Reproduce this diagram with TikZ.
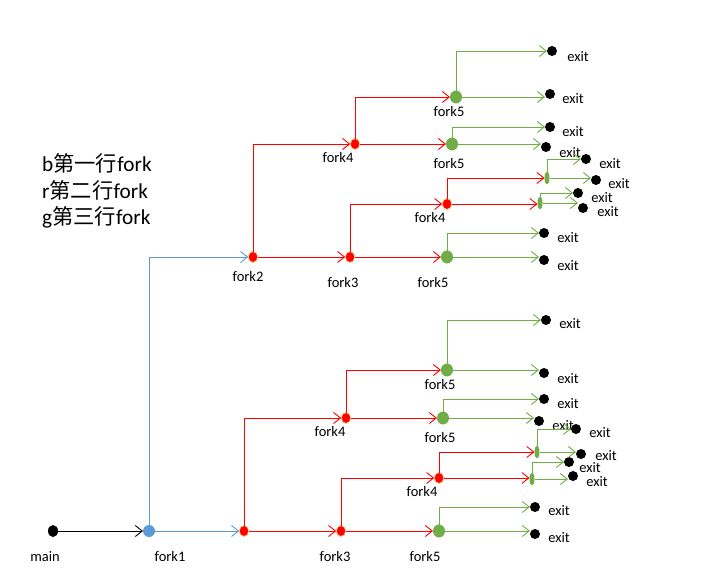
\documentclass[tikz,border=0pt]{standalone}
\usepackage{fontspec}
\setmainfont{Carlito}
\newfontfamily\cjk{Noto Sans CJK SC}
\usetikzlibrary{arrows.meta,shapes.geometric}
\definecolor{cblue}{RGB}{91,155,213}
\definecolor{cred}{RGB}{255,0,0}
\definecolor{cgreen}{RGB}{112,173,71}
\definecolor{cglow}{RGB}{255,200,130}
\begin{document}
\begin{tikzpicture}[x=1pt,y=-1pt,
  dotbase/.style={ellipse,inner sep=0pt,outer sep=0pt},
  blackdot/.style={dotbase,fill=black,minimum width=10pt,minimum height=12pt},
  bluedot/.style={dotbase,fill=cblue,minimum width=12pt,minimum height=12pt},
  reddot/.style={dotbase,fill=cred,draw=cglow,line width=0.8pt,minimum width=9.5pt,minimum height=11pt},
  greendot/.style={dotbase,fill=cgreen,minimum width=12pt,minimum height=13pt},
  greenoval/.style={dotbase,fill=cgreen,minimum width=5pt,minimum height=13pt},
  exitdot/.style={dotbase,fill=black,minimum width=10pt,minimum height=10pt},
  lbl/.style={font=\fontsize{14.5}{16}\selectfont,inner sep=0pt},
  legend/.style={font=\fontsize{21.3}{24}\selectfont,anchor=west,inner sep=0pt},
  conn/.style={line width=0.9pt,-{Straight Barb[length=7pt,width=11pt]}},
  kline/.style={conn,draw=black},
  bline/.style={conn,draw=cblue},
  rline/.style={conn,draw=cred},
  gline/.style={conn,draw=cgreen},
]
\useasboundingbox (0,0) rectangle (703,578);

% legend
\node[legend] (lg1) at (42,163) {b{\cjk 第一行}fork};
\node[legend] (lg2) at (42,190) {r{\cjk 第二行}fork};
\node[legend] (lg3) at (42,217) {g{\cjk 第三行}fork};

% ---------------- bottom chain ----------------
\node[blackdot] (main) at (53,531) {};
\node[lbl] (lmain) at (45,557) {main};
\node[bluedot] (f1) at (149,531) {};
\node[lbl] (lf1) at (170,557) {fork1};
\node[reddot] (f2L) at (244,531) {};
\node[reddot] (f3L) at (341,531) {};
\node[lbl] (lf3L) at (335,557) {fork3};
\node[greendot] (f5La) at (439,531) {};
\node[lbl] (lf5La) at (425,557) {fork5};
\node[exitdot] (eLa1) at (535,507) {};
\node[lbl] (leLa1) at (559,511) {exit};
\node[exitdot] (eLa2) at (535,534) {};
\node[lbl] (leLa2) at (559,538) {exit};

\node[reddot] (f4La) at (439,478) {};
\node[lbl] (lf4La) at (422,492) {fork4};
\node[greenoval] (oA) at (537,452) {};
\node[exitdot] (eA1) at (576,429) {};
\node[lbl] (leA1) at (600,433) {exit};
\node[exitdot] (eA2) at (581,454) {};
\node[lbl] (leA2) at (606,456) {exit};
\node[greenoval] (oB) at (532,479) {};
\node[exitdot] (eB1) at (569,462) {};
\node[lbl] (leB1) at (590,468) {exit};
\node[exitdot] (eB2) at (573,476) {};
\node[lbl] (leB2) at (597,482) {exit};

\node[reddot] (f4Lb) at (346,418) {};
\node[lbl] (lf4Lb) at (330,432) {fork4};
\node[greendot] (f5Lb) at (447,370) {};
\node[lbl] (lf5Lb) at (440,385) {fork5};
\node[exitdot] (eLb1) at (546,320) {};
\node[lbl] (leLb1) at (570,324) {exit};
\node[exitdot] (eLb2) at (544,373) {};
\node[lbl] (leLb2) at (568,379) {exit};
\node[greendot] (f5Lc) at (443,418) {};
\node[lbl] (lf5Lc) at (440,438) {fork5};
\node[exitdot] (eLc1) at (544,399) {};
\node[lbl] (leLc1) at (568,404) {exit};
\node[exitdot] (eLc2) at (539,421) {};
\node[lbl] (leLc2) at (563,426) {exit};

% ---------------- top chain ----------------
\node[reddot] (f2U) at (253,257) {};
\node[lbl] (lf2U) at (248,277) {fork2};
\node[reddot] (f3U) at (350,257) {};
\node[lbl] (lf3U) at (343,283) {fork3};
\node[greendot] (f5Ua) at (447,257) {};
\node[lbl] (lf5Ua) at (433,283) {fork5};
\node[exitdot] (eUa1) at (544,233) {};
\node[lbl] (leUa1) at (568,238) {exit};
\node[exitdot] (eUa2) at (544,260) {};
\node[lbl] (leUa2) at (568,266) {exit};

\node[reddot] (f4Ua) at (447,204) {};
\node[lbl] (lf4Ua) at (430,218) {fork4};
\node[greenoval] (oAU) at (547,178) {};
\node[exitdot] (eAU1) at (586,159) {};
\node[lbl] (leAU1) at (610,164) {exit};
\node[exitdot] (eAU2) at (596,180) {};
\node[lbl] (leAU2) at (619,184) {exit};
\node[greenoval] (oBU) at (540,203) {};
\node[exitdot] (eBU1) at (578,193) {};
\node[lbl] (leBU1) at (602,198) {exit};
\node[exitdot] (eBU2) at (583,208) {};
\node[lbl] (leBU2) at (608,212) {exit};

\node[reddot] (f4Ub) at (355,144) {};
\node[lbl] (lf4Ub) at (338,158) {fork4};
\node[greendot] (f5Ub) at (456,97) {};
\node[lbl] (lf5Ub) at (449,112) {fork5};
\node[exitdot] (eUb1) at (552,51) {};
\node[lbl] (leUb1) at (578,57) {exit};
\node[exitdot] (eUb2) at (550,94) {};
\node[lbl] (leUb2) at (573,99) {exit};
\node[greendot] (f5Uc) at (452,144) {};
\node[lbl] (lf5Uc) at (449,164) {fork5};
\node[exitdot] (eUc1) at (550,127) {};
\node[lbl] (leUc1) at (573,132) {exit};
\node[exitdot] (eUc2) at (546,147) {};
\node[lbl] (leUc2) at (570,153) {exit};

% ---------------- connectors ----------------
\draw[kline] (main) -- (f1);
\draw[bline] (f1) -- (f2L);
\draw[bline] (f1) |- (f2U);

\draw[rline] (f2L) -- (f3L);
\draw[rline] (f2L) |- (f4Lb);
\draw[rline] (f3L) -- (f5La);
\draw[rline] (f3L) |- (f4La);
\draw[gline] (f5La) -- (f5La -| eLa2.west);
\draw[gline] (f5La) |- (eLa1);
\draw[rline] (f4La) -- (f4La -| oB.west);
\draw[rline] (f4La) |- (oA);
\draw[gline] (oA) -- (oA -| eA2.west);
\draw[gline] (oA) |- (eA1);
\draw[gline] (oB) -- (oB -| eB2.west);
\draw[gline] (oB) |- (eB1);
\draw[rline] (f4Lb) -- (f5Lc);
\draw[rline] (f4Lb) |- (f5Lb);
\draw[gline] (f5Lb) -- (f5Lb -| eLb2.west);
\draw[gline] (f5Lb) |- (eLb1);
\draw[gline] (f5Lc) -- (f5Lc -| eLc2.west);
\draw[gline] (f5Lc) |- (eLc1);

\draw[rline] (f2U) -- (f3U);
\draw[rline] (f2U) |- (f4Ub);
\draw[rline] (f3U) -- (f5Ua);
\draw[rline] (f3U) |- (f4Ua);
\draw[gline] (f5Ua) -- (f5Ua -| eUa2.west);
\draw[gline] (f5Ua) |- (eUa1);
\draw[rline] (f4Ua) -- (f4Ua -| oBU.west);
\draw[rline] (f4Ua) |- (oAU);
\draw[gline] (oAU) -- (oAU -| eAU2.west);
\draw[gline] (oAU) |- (eAU1);
\draw[gline] (oBU) -- (oBU -| eBU2.west);
\draw[gline] (oBU) |- (eBU1);
\draw[rline] (f4Ub) -- (f5Uc);
\draw[rline] (f4Ub) |- (f5Ub);
\draw[gline] (f5Ub) -- (f5Ub -| eUb2.west);
\draw[gline] (f5Ub) |- (eUb1);
\draw[gline] (f5Uc) -- (f5Uc -| eUc2.west);
\draw[gline] (f5Uc) |- (eUc1);
\end{tikzpicture}
\end{document}
